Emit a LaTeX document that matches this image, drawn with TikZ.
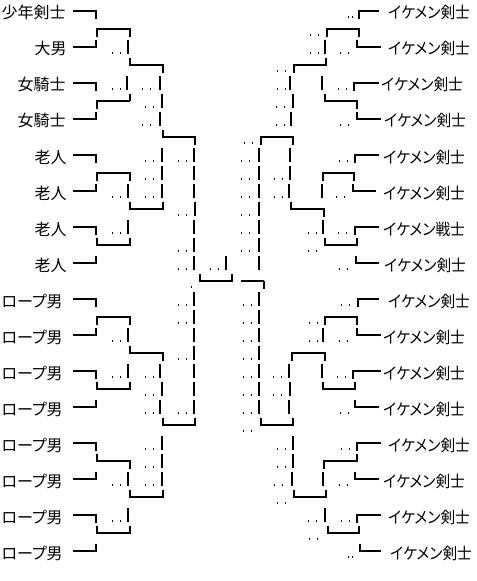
\documentclass[tikz,border=0pt]{standalone}
\usepackage{fontspec}
\usepackage{graphicx}
\newfontfamily\jp[RawFeature=+palt]{Noto Sans CJK JP}
\usepackage{tikz}

\begin{document}
\begin{tikzpicture}[x=0.75pt, y=-0.75pt,
    thn/.style={line width=0.8pt},
    thk/.style={line width=1.7pt},
    lbl/.style={font=\jp\fontsize{12}{14}\selectfont, inner sep=0pt},
    dotpair/.style={fill=black}]
\useasboundingbox (0,0) rectangle (476,581);
\foreach \t/\x [count=\k] in {少年剣士/66, 大男/67, 女騎士/66, 女騎士/66, 老人/67, 老人/67, 老人/67, 老人/67,
    ロープ男/63, ロープ男/63, ロープ男/63, ロープ男/63, ロープ男/63, ロープ男/63, ロープ男/63, ロープ男/63}
  \node[lbl, anchor=base east] (l\k) at (\x,{36*\k-17}) {\t};
\foreach \t/\x [count=\k] in {イケメン剣士/388, イケメン剣士/388, イケメン剣士/381, イケメン剣士/384,
    イケメン剣士/383, イケメン剣士/383, イケメン戦士/383, イケメン剣士/384,
    イケメン剣士/388, イケメン剣士/383, イケメン剣士/383, イケメン剣士/383,
    イケメン剣士/388, イケメン剣士/383, イケメン剣士/388, イケメン剣士/390}
  \node[lbl, anchor=base west] (r\k) at (\x,{36*\k-17}) {\scalebox{0.92}[1]{\t}};
% left side
\draw[thn] (73,11) -- (96,11) -- (96,19);
\draw[thk] (97,37) -- (97,29) -- (130,29) -- (130,37);
\draw[thk] (73,47) -- (96,47) -- (96,40);
\draw[thk] (130,58) -- (130,65) -- (163,65) -- (163,73);
\draw[thn] (73,83) -- (96,83) -- (96,91);
\draw[thk] (97,109) -- (97,101) -- (130,101);
\draw[thn] (130,101) -- (130,94);
\draw[thk] (73,119) -- (96,119) -- (96,112);
\draw[thk] (163,130) -- (163,137) -- (195,137) -- (195,145);
\draw[thn] (73,155) -- (96,155) -- (96,163);
\draw[thk] (97,181) -- (97,173) -- (130,173) -- (130,181);
\draw[thk] (73,191) -- (96,191) -- (96,184);
\draw[thk] (130,202) -- (130,209) -- (155,209);
\draw[thn] (155,209) -- (163,209) -- (163,202);
\draw[thk] (73,227) -- (96,227) -- (96,235);
\draw[thk] (97,238) -- (97,245) -- (123,245);
\draw[thn] (123,245) -- (130,245) -- (130,238);
\draw[thn] (73,263) -- (96,263) -- (96,256);
\draw[thk] (200,274) -- (200,281) -- (232,281) -- (232,274);
\draw[thn] (73,299) -- (96,299) -- (96,307);
\draw[thk] (97,325) -- (97,317) -- (130,317) -- (130,325);
\draw[thk] (73,335) -- (96,335) -- (96,328);
\draw[thk] (130,346) -- (130,353) -- (163,353) -- (163,361);
\draw[thk] (73,371) -- (96,371) -- (96,379);
\draw[thk] (97,382) -- (97,389) -- (123,389);
\draw[thn] (123,389) -- (130,389) -- (130,382);
\draw[thn] (73,407) -- (96,407) -- (96,400);
\draw[thk] (163,418) -- (163,425) -- (187,425);
\draw[thn] (187,425) -- (195,425) -- (195,418);
\draw[thk] (73,443) -- (96,443) -- (96,451);
\draw[thk] (97,454) -- (97,461) -- (130,461) -- (130,469);
\draw[thn] (73,479) -- (96,479) -- (96,472);
\draw[thk] (130,490) -- (130,497) -- (155,497);
\draw[thn] (155,497) -- (163,497) -- (163,490);
\draw[thk] (73,515) -- (96,515) -- (96,523);
\draw[thk] (97,526) -- (97,533) -- (123,533);
\draw[thn] (123,533) -- (130,533) -- (130,526);
\draw[thn] (73,551) -- (96,551) -- (96,544);
% right side
\draw[thn] (359,19) -- (359,11) -- (379,11);
\draw[thk] (327,37) -- (327,29) -- (359,29) -- (359,37);
\draw[thk] (357,40) -- (357,47) -- (381,47);
\draw[thn] (294,73) -- (294,65) -- (303,65);
\draw[thk] (303,65) -- (326,65) -- (326,58);
\draw[thn] (354,91) -- (354,83) -- (379,83);
\draw[thn] (325,94) -- (325,101) -- (333,101);
\draw[thk] (333,101) -- (357,101) -- (357,109);
\draw[thk] (357,112) -- (357,119) -- (381,119);
\draw[thn] (261,145) -- (261,137) -- (269,137);
\draw[thk] (269,137) -- (293,137) -- (293,145);
\draw[thn] (355,163) -- (355,155) -- (379,155);
\draw[thn] (323,181) -- (323,173) -- (331,173);
\draw[thk] (331,173) -- (354,173) -- (354,181);
\draw[thk] (353,184) -- (353,191) -- (376,191);
\draw[thk] (291,202) -- (291,209) -- (324,209) -- (324,217);
\draw[thk] (355,235) -- (355,227) -- (379,227);
\draw[thk] (325,238) -- (325,245) -- (357,245) -- (357,238);
\draw[thn] (356,256) -- (356,263) -- (379,263);
\draw[thn] (241,281) -- (264,281);
\draw[thk] (264,281) -- (264,289);
\draw[thn] (358,307) -- (358,299) -- (379,299);
\draw[thn] (325,325) -- (325,317) -- (333,317);
\draw[thk] (333,317) -- (357,317) -- (357,325);
\draw[thk] (357,328) -- (357,335) -- (381,335);
\draw[thk] (292,361) -- (292,353) -- (325,353) -- (325,361);
\draw[thk] (353,379) -- (353,371) -- (381,371);
\draw[thk] (323,382) -- (323,389) -- (355,389) -- (355,382);
\draw[thn] (355,400) -- (355,407) -- (379,407);
\draw[thk] (261,418) -- (261,425) -- (293,425) -- (293,418);
\draw[thk] (357,451) -- (357,443) -- (381,443);
\draw[thk] (324,469) -- (324,461) -- (357,461) -- (357,454);
\draw[thn] (355,472) -- (355,479) -- (379,479);
\draw[thn] (294,490) -- (294,497) -- (303,497);
\draw[thk] (303,497) -- (326,497) -- (326,490);
\draw[thk] (357,523) -- (357,515) -- (381,515);
\draw[thn] (328,526) -- (328,533) -- (336,533);
\draw[thk] (336,533) -- (359,533) -- (359,526);
\draw[thn] (360,544) -- (360,551) -- (381,551);
% broken verticals
\foreach \x/\k in {127/5, 162/9, 162/10, 162/11, 128/13, 194/17, 194/18, 194/19, 194/20, 128/21, 194/21, 194/22, 194/23,
    162/25, 162/26, 162/27, 128/29, 290/5, 322/5, 293/6, 291/7, 259/9, 259/10, 259/11, 322/11, 259/12, 259/13, 259/14, 259/15,
    323/19, 293/25, 293/26, 292/27, 325/29}
  \draw[thn] (\x,{18*\k-14}) -- (\x,{18*\k});
\foreach \x/\k in {128/3, 160/5, 162/6, 160/7, 194/9, 194/10, 128/11, 194/11, 195/12, 194/13, 194/14, 194/15, 226/15,
    128/19, 160/21, 162/22, 160/23, 128/27, 325/3, 290/9, 290/10, 289/11, 323/13, 259/17, 259/18, 259/19, 259/20,
    259/21, 289/21, 322/21, 259/22, 290/22, 259/23, 289/23, 323/27}
  \draw[thk] (\x,{18*\k-14}) -- (\x,{18*\k});
% dots
\foreach \x/\k in {112/3, 112/5, 142/5, 145/6, 142/7, 145/9, 178/9, 145/10, 112/11, 145/11, 178/12, 112/13, 178/14,
    178/15, 210/15, 178/17, 178/18, 112/19, 178/20, 112/21, 145/21, 145/22, 145/23, 178/23, 145/25, 145/26, 112/27,
    145/27, 112/29, 310/2, 310/3, 340/3, 277/4, 277/5, 338/5, 276/6, 276/7, 340/7, 244/8, 241/9, 339/9, 241/10,
    274/10, 241/11, 274/11, 336/11, 241/12, 241/13, 308/13, 338/13, 241/14, 308/14, 339/15, 243/17, 341/17, 243/18,
    309/18, 243/19, 309/19, 339/19, 243/20, 243/21, 273/21, 337/21, 243/22, 273/22, 243/23, 340/23, 243/24, 277/25,
    341/25, 277/26, 274/27, 339/27, 277/28, 308/29, 341/29, 309/30}
  {\fill[dotpair] (\x,{18*\k-1.6}) rectangle +(1.3,1.3);
   \fill[dotpair] ({\x+7.5},{18*\k-1.6}) rectangle +(1.3,1.3);}
\foreach \x/\k in {348/1, 348/31}
  {\fill[dotpair] (\x,{18*\k-1.6}) rectangle +(1.3,1.3);
   \fill[dotpair] ({\x+3.5},{18*\k-1.6}) rectangle +(1.3,1.3);}
\fill[dotpair] (191,286.4) rectangle +(1.3,1.3);
\end{tikzpicture}
\end{document}
